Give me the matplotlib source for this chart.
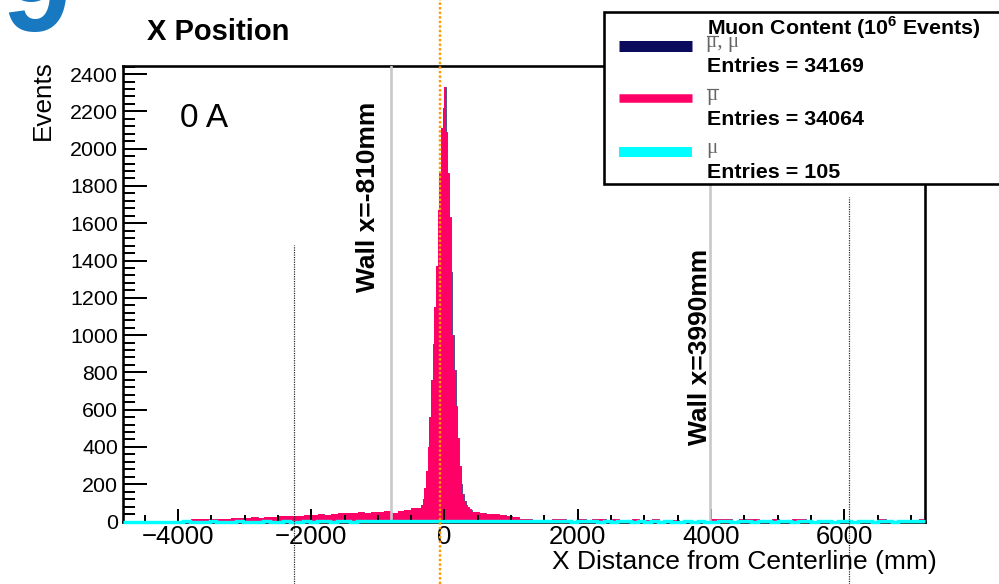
import numpy as np
import matplotlib
matplotlib.use("Agg")
import matplotlib.pyplot as plt
from matplotlib.patches import Rectangle
from matplotlib.lines import Line2D
import matplotlib.transforms as mtransforms
from matplotlib.ticker import MultipleLocator, FixedLocator

plt.rcParams['font.family'] = ['Liberation Sans', 'DejaVu Sans']
plt.rcParams['mathtext.fontset'] = 'custom'
plt.rcParams['mathtext.rm'] = 'Liberation Sans'
plt.rcParams['mathtext.bf'] = 'Liberation Sans:bold'

# ---------------- data ----------------
# anti-muon (mu-bar) X position histogram, counts per bin
hist_start = -3805          # mm, left edge of first filled bin
left_width = 100            # mm
left_counts = [12, 14, 15, 14, 16, 15, 20, 21, 19, 22,
               21, 24, 26, 29, 27, 30, 28, 36, 33, 38,
               35, 42, 44, 46, 43, 50, 48, 53, 51, 55,
               48, 58, 62, 70]
core_width = 25             # mm
core_counts = [70, 75, 90, 120, 180, 270, 400, 560, 760, 950,
               1150, 1368, 1671, 1877, 2110, 2216, 2332, 2091, 1868, 1636,
               1341, 1000, 810, 620, 450, 300, 200, 150, 110, 90,
               78, 68, 62]
right_width = 100           # mm
right_counts = [52, 48, 42, 38, 36, 27, 22, 15, 12]
far_width = 100             # mm
far_counts = [10, 6, 5, 15, 14, 4, 3, 15, 9, 16,
              14, 5, 15, 9, 4, 14, 6, 9, 15, 3,
              4, 7, 3, 5, 2, 3, 4, 16, 15, 14,
              3, 15, 16, 14, 2, 3, 15, 2, 3, 15,
              15, 2, 3, 2, 3, 2, 2, 3, 2, 2,
              3, 2, 15, 4, 2, 3, 2, 3, 14]

# muon (mu) counts, 120 equal bins across the full axis range
mu_counts = [0, 0, 0, 0, 0, 0, 0, 0, 0, 1, 0, 0, 0, 1, 0, 0, 0, 1, 0, 0,
             0, 1, 0, 0, 1, 0, 0, 1, 0, 1, 1, 0, 1, 1, 0, 1, 1, 1, 2, 1,
             1, 2, 1, 2, 2, 3, 3, 3, 3, 3, 3, 3, 2, 3, 2, 2, 2, 2, 1, 2,
             1, 1, 2, 1, 1, 1, 1, 0, 1, 1, 1, 0, 1, 0, 1, 1, 0, 1, 0, 1,
             0, 1, 0, 0, 1, 0, 1, 0, 0, 1, 1, 0, 1, 1, 0, 1, 1, 0, 1, 1,
             0, 1, 1, 0, 1, 1, 0, 1, 1, 0, 1, 1, 0, 1, 1, 0, 1, 2, 2, 2]

entries_all = 34169
entries_mubar = 34064
entries_mu = 105

wall_positions = [-810, 3990]
wall_labels = ["Wall x=-810mm", "Wall x=3990mm"]
beam_center = -65
aux_marks = [-2265, 6065]

x_range = (-4830, 7212)
y_range = (0, 2446)
x_ticks = [-4000, -2000, 0, 2000, 4000, 6000]

# ---------------- figure ----------------
W, H = 999, 584
fig = plt.figure(figsize=(W / 100, H / 100), dpi=100)


def fx(px):
    return px / W


def fy(py):
    return 1 - py / H


ax = fig.add_axes([fx(122.7), fy(521.5), fx(925) - fx(122.7), fy(65.5) - fy(521.5)])
ax.set_xlim(*x_range)
ax.set_ylim(*y_range)

# build bin edges from the segments
segments = [(left_width, left_counts), (core_width, core_counts),
            (right_width, right_counts), (far_width, far_counts)]
edges = [hist_start]
counts = []
for width, vals in segments:
    for v in vals:
        edges.append(edges[-1] + width)
        counts.append(v)
edges = np.array(edges, dtype=float)
counts = np.array(counts, dtype=float)

navy = '#0b0b5e'
pink = '#ff0066'
cyan = '#00ffff'
px2pt = 0.72

# combined mu-bar + mu outline, then the mu-bar fill
ax.stairs(counts, edges, color=navy, lw=0.7 * px2pt, zorder=1.9)
ax.stairs(counts, edges, fill=True, facecolor=pink, edgecolor='none', zorder=2)

# mu histogram along the baseline
mu_edges = np.linspace(x_range[0], x_range[1], len(mu_counts) + 1)
ax.stairs(mu_counts, mu_edges, color=cyan, lw=3.4 * px2pt, zorder=3, clip_on=False,
          baseline=None)

# wall markers
for xw in wall_positions:
    ax.axvline(xw, color='#c8c8c8', lw=2.6 * px2pt, zorder=2.7)
ax.text(-1150, 1231, wall_labels[0], rotation=90, ha='center', va='bottom',
        fontsize=19, fontweight='bold', zorder=4)
ax.text(3833, 410, wall_labels[1], rotation=90, ha='center', va='bottom',
        fontsize=19, fontweight='bold', zorder=4)

ax.text(-3975, 2116, "0 A", fontsize=24, ha='left', va='baseline')

# axes styling
for side in ['left', 'right', 'top', 'bottom']:
    ax.spines[side].set_linewidth(2.6 * px2pt)
ax.xaxis.set_major_locator(FixedLocator(x_ticks))
ax.xaxis.set_minor_locator(MultipleLocator(500))
ax.yaxis.set_major_locator(MultipleLocator(200))
ax.yaxis.set_minor_locator(MultipleLocator(40))
ax.tick_params(axis='x', which='major', direction='in', length=13 * px2pt, width=2 * px2pt,
               labelsize=18.5, pad=2.5)
ax.tick_params(axis='x', which='minor', direction='in', length=7 * px2pt, width=2 * px2pt)
ax.tick_params(axis='y', which='major', direction='in', length=24 * px2pt, width=2 * px2pt,
               labelsize=15.4, pad=3.4)
ax.tick_params(axis='y', which='minor', direction='in', length=12 * px2pt, width=2 * px2pt)
ax.xaxis.set_zorder(2.6)

# axis titles
fig.text(fx(937), fy(562), "X Distance from Centerline (mm)", fontsize=19,
         ha='right', va='center')
fig.text(fx(43), fy(60), "Events", fontsize=18.8, rotation=90, ha='center', va='top')
fig.text(fx(147), fy(40), "X Position", fontsize=21, fontweight='bold',
         ha='left', va='baseline')

# slide panel number
fig.text(fx(3), fy(31), "9", fontsize=88, fontweight='bold', color='#1878c0',
         ha='left', va='baseline')

# reference lines spanning the whole figure
bt = mtransforms.blended_transform_factory(ax.transData, fig.transFigure)
fig.add_artist(Line2D([beam_center, beam_center], [0, 1], transform=bt, color='#ff9900',
                      lw=2.4 * px2pt, linestyle=(0, (1, 0.9)), zorder=6))
fig.add_artist(Line2D([aux_marks[0], aux_marks[0]], [0, fy(245)], transform=bt,
                      color='#222222', lw=1.2 * px2pt, linestyle=(0, (1, 1)), zorder=6))
fig.add_artist(Line2D([aux_marks[1], aux_marks[1]], [0, fy(197)], transform=bt,
                      color='#222222', lw=1.2 * px2pt, linestyle=(0, (1, 1)), zorder=6))

# legend box
fig.add_artist(Rectangle((fx(604), fy(184)), fx(1012) - fx(604), fy(12) - fy(184),
                         transform=fig.transFigure, facecolor='white', edgecolor='black',
                         lw=2.6 * px2pt, zorder=7))
fig.text(fx(707), fy(28), r"Muon Content (10$^{\mathbf{6}}$ Events)", fontsize=15.4,
         fontweight='bold', ha='left', va='center', zorder=8)
swatches = [(navy, 46, 11), (pink, 98, 8.5), (cyan, 152, 10)]
for col, yy, lwpx in swatches:
    fig.add_artist(Line2D([fx(619), fx(692)], [fy(yy), fy(yy)], transform=fig.transFigure,
                          color=col, lw=lwpx * px2pt, solid_capstyle='butt', zorder=8))

# particle symbols: serif mu, with an overline for the anti-muon
mu_rows = [("μ, μ", 47, True), ("μ", 100, True), ("μ", 153, False)]
for lab, base, bar in mu_rows:
    fig.text(fx(706), fy(base), lab, fontsize=15, color='#666666', ha='left',
             va='baseline', family=['Liberation Serif', 'DejaVu Serif'], zorder=8)
    if bar:
        fig.add_artist(Line2D([fx(707), fx(718)], [fy(base - 11), fy(base - 11)],
                              transform=fig.transFigure, color='#666666',
                              lw=1.2 * px2pt, zorder=8))
for n, yy in [(entries_all, 67), (entries_mubar, 120), (entries_mu, 173)]:
    fig.text(fx(707), fy(yy), f"Entries = {n}", fontsize=15.4, fontweight='bold',
             ha='left', va='center', zorder=8)

fig.savefig("out.png", dpi=100)
